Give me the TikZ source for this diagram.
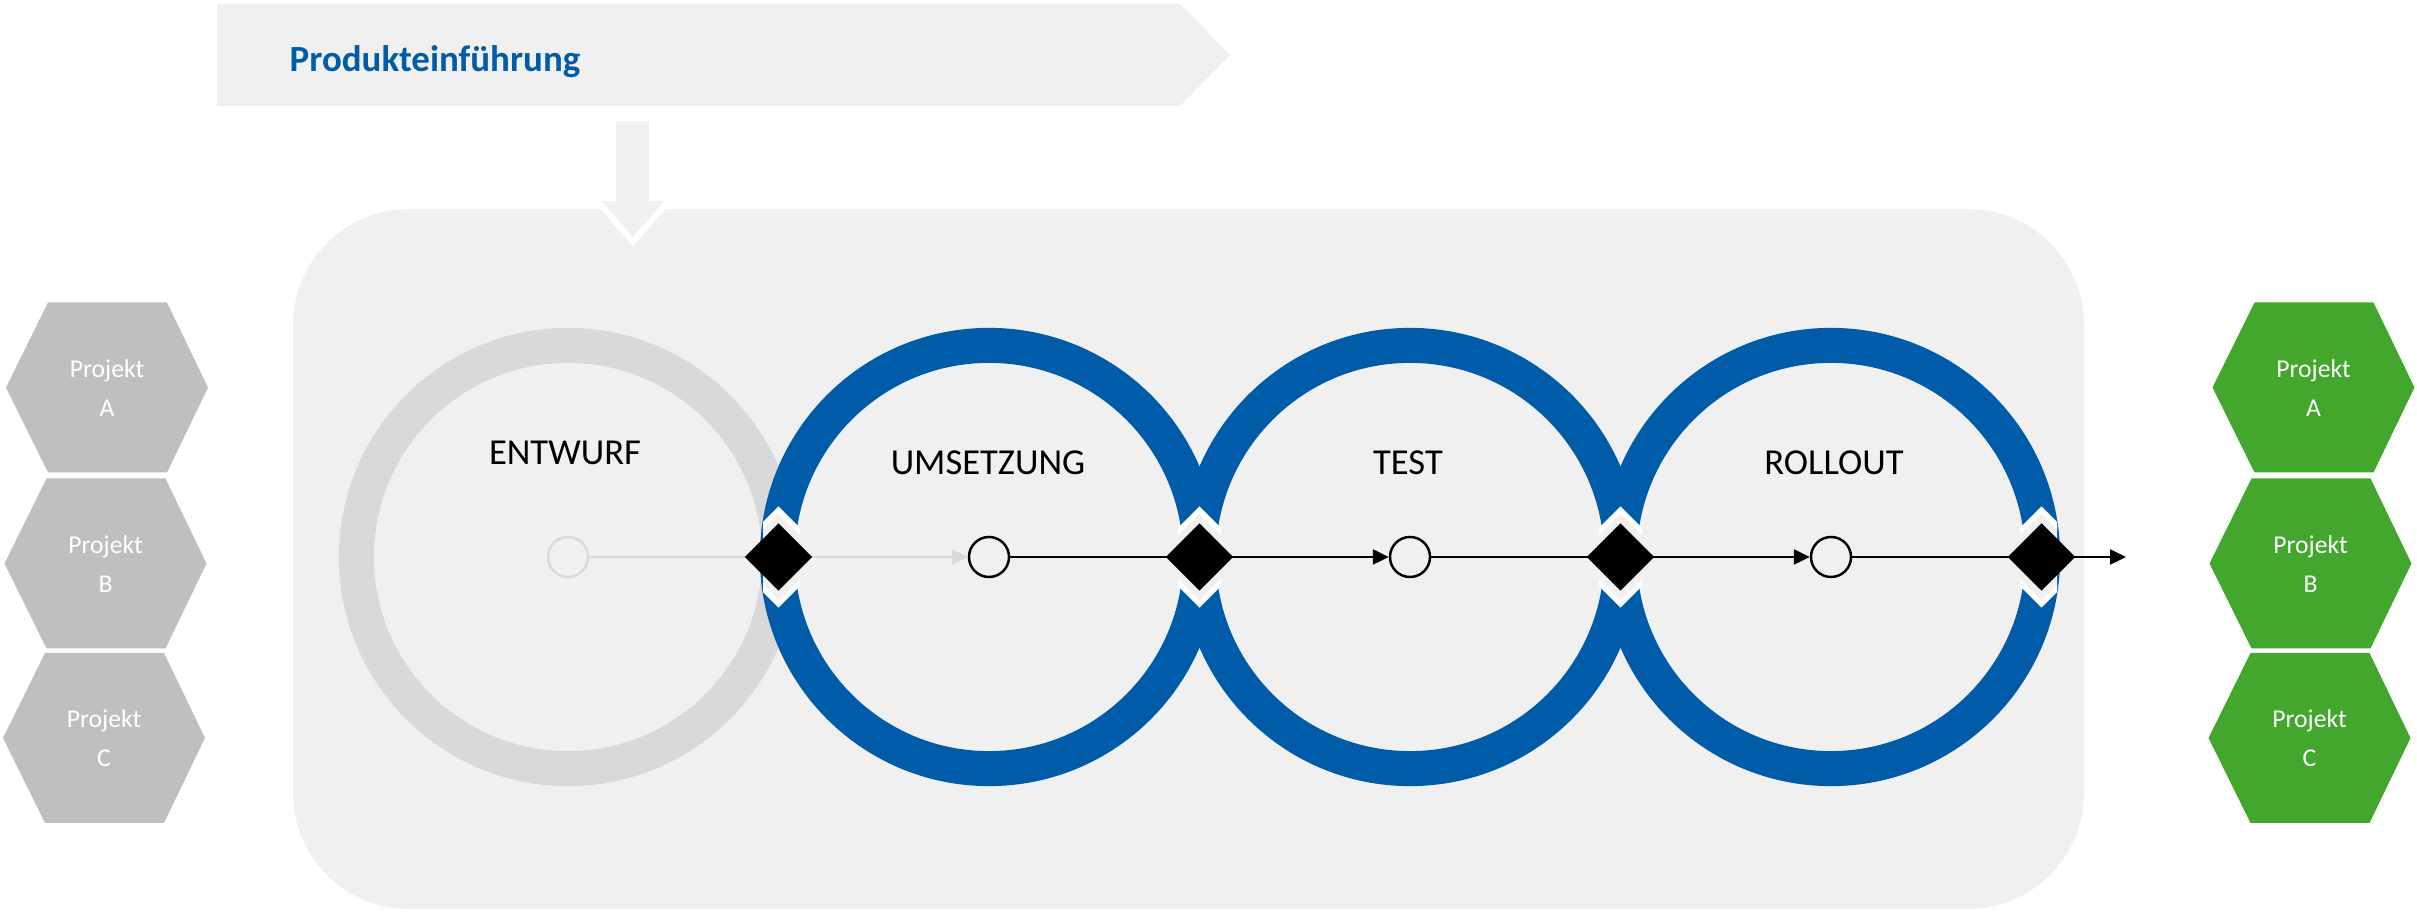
\documentclass[tikz,border=0pt]{standalone}
\usepackage{fontspec}
\setmainfont{Carlito}
\usetikzlibrary{shapes.geometric,arrows.meta}
\definecolor{bggrey}{HTML}{F0F0F0}
\definecolor{ringgrey}{HTML}{D9D9D9}
\definecolor{hexgrey}{HTML}{BFBFBF}
\definecolor{hexgreen}{HTML}{43A72E}
\definecolor{phaseblue}{HTML}{005CA8}

\begin{document}
\begin{tikzpicture}[x=0.01cm, y=-0.01cm,
  ring/.style={line width=0.35cm},
  phasename/.style={font=\fontsize{10.4}{12}\selectfont, inner sep=0, anchor=base},
  dot/.style={circle, draw, line width=0.7pt, fill=bggrey, minimum size=0.4cm, inner sep=0},
  gate/.style={diamond, fill=black, minimum width=0.68cm, minimum height=0.68cm, inner sep=0},
  notch/.style={fill=bggrey, draw=white, line width=0.05cm},
  flow/.style={line width=0.7pt, -{Triangle[length=0.16cm, width=0.15cm]}},
  projlabel/.style={align=center, text=white, inner sep=0, font=\fontsize{7.3}{11.1}\selectfont}]
\useasboundingbox (0,0) rectangle (2417,916);
\fill[bggrey] (217,4) -- (1180,4) -- (1230,55) -- (1180,106) -- (217,106) -- cycle;
\node[anchor=base west, inner sep=0, text=phaseblue, font=\bfseries\fontsize{10.5}{12}\selectfont] (title) at (289,72) {Produkteinführung};
\fill[bggrey, rounded corners=1.16cm] (293,209) rectangle (2084,909);
\draw[fill=bggrey, draw=white, line width=0.06cm] (613,118) -- (652,118) -- (652,198) -- (671,198) -- (633,242) -- (595,198) -- (613,198) -- cycle;

\draw[ring, ringgrey] (568,557) circle [radius=2.115cm];
\draw[ring, phaseblue] (989,557) circle [radius=2.115cm];
\draw[ring, phaseblue] (1410,557) circle [radius=2.115cm];
\draw[ring, phaseblue] (1831,557) circle [radius=2.115cm];

\begin{scope}
\clip (763,480) rectangle (800,634);
\draw[notch] (778.5,510) -- (825.5,557) -- (778.5,604) -- (731.5,557) -- cycle;
\end{scope}
\begin{scope}
\clip (1178,480) rectangle (1221,634);
\draw[notch] (1199.5,510) -- (1246.5,557) -- (1199.5,604) -- (1152.5,557) -- cycle;
\end{scope}
\begin{scope}
\clip (1599,480) rectangle (1642,634);
\draw[notch] (1620.5,510) -- (1667.5,557) -- (1620.5,604) -- (1573.5,557) -- cycle;
\end{scope}
\begin{scope}
\clip (2020,480) rectangle (2057,634);
\draw[notch] (2041.5,510) -- (2088.5,557) -- (2041.5,604) -- (1994.5,557) -- cycle;
\end{scope}

\node[phasename] (entwurf) at (565,465) {ENTWURF};
\node[phasename] (umsetzung) at (988,475) {UMSETZUNG};
\node[phasename] (test) at (1408,475) {TEST};
\node[phasename] (rollout) at (1834,475) {ROLLOUT};

\node[dot, draw=ringgrey] (e1) at (568,557) {};
\node[dot] (u1) at (989,557) {};
\node[dot] (t1) at (1410,557) {};
\node[dot] (r1) at (1831,557) {};
\coordinate (out) at (2126,557);
\draw[flow, ringgrey] (e1) -- (u1);
\draw[flow] (u1) -- (t1);
\draw[flow] (t1) -- (r1);
\draw[flow] (r1) -- (out);
\node[gate] (g1) at (778.5,557) {};
\node[gate] (g2) at (1199.5,557) {};
\node[gate] (g3) at (1620.5,557) {};
\node[gate] (g4) at (2041.5,557) {};

\fill[hexgrey] (6,387.5) -- ++(42,-85) -- ++(119,0) -- ++(41,85) -- ++(-41,85) -- ++(-119,0) -- cycle;
\fill[hexgrey] (4.5,563.5) -- ++(42,-85) -- ++(119,0) -- ++(41,85) -- ++(-41,85) -- ++(-119,0) -- cycle;
\fill[hexgrey] (3,738) -- ++(42,-85) -- ++(119,0) -- ++(41,85) -- ++(-41,85) -- ++(-119,0) -- cycle;
\node[projlabel] (pa) at (107,388) {Projekt\\A};
\node[projlabel] (pb) at (105.5,564) {Projekt\\B};
\node[projlabel] (pc) at (104,738.5) {Projekt\\C};

\fill[hexgreen] (2212.5,387.5) -- ++(42,-85) -- ++(119,0) -- ++(41,85) -- ++(-41,85) -- ++(-119,0) -- cycle;
\fill[hexgreen] (2209.5,563.5) -- ++(42,-85) -- ++(119,0) -- ++(41,85) -- ++(-41,85) -- ++(-119,0) -- cycle;
\fill[hexgreen] (2208.5,738) -- ++(42,-85) -- ++(119,0) -- ++(41,85) -- ++(-41,85) -- ++(-119,0) -- cycle;
\node[projlabel] (qa) at (2313.5,388) {Projekt\\A};
\node[projlabel] (qb) at (2310.5,564) {Projekt\\B};
\node[projlabel] (qc) at (2309.5,738.5) {Projekt\\C};
\end{tikzpicture}
\end{document}
